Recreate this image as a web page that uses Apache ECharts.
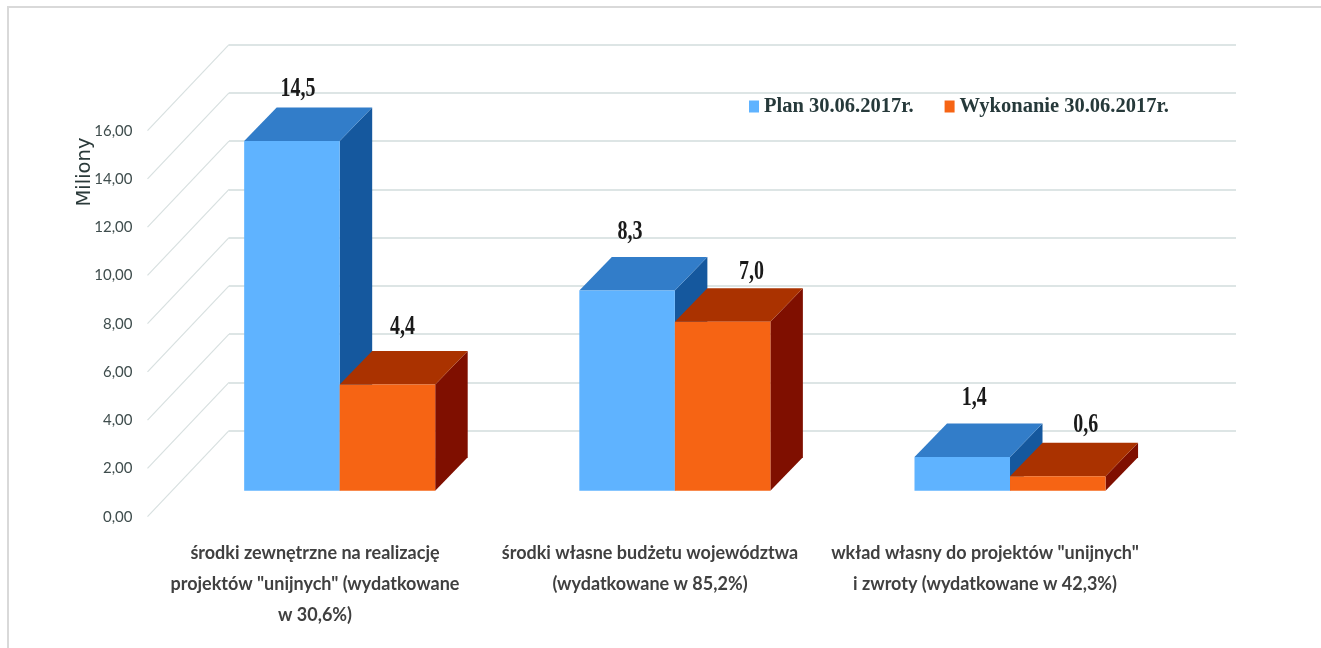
<!DOCTYPE html>
<html>
<head>
<meta charset="utf-8">
<style>
html,body{margin:0;padding:0;background:#fff;overflow:hidden}
#frame{position:absolute;left:7px;top:6px;width:1314px;height:642px;border-top:2px solid #d9d9d9;border-left:2px solid #d9d9d9;box-sizing:border-box}
#c{position:absolute;left:0;top:0;width:1321px;height:648px}
</style>
<script src="https://cdn.jsdelivr.net/npm/echarts@6/dist/echarts.min.js"></script>
</head>
<body>
<div id="frame"></div>
<div id="c"></div>
<script>
const categories = [
  'środki zewnętrzne na realizację\nprojektów "unijnych" (wydatkowane\nw 30,6%)',
  'środki własne budżetu województwa\n(wydatkowane w 85,2%)',
  'wkład własny do projektów "unijnych"\ni zwroty (wydatkowane w 42,3%)'
];
const planValues = [14.5, 8.3, 1.4];
const wykonanieValues = [4.4, 7.0, 0.6];
const planName = 'Plan 30.06.2017r.';
const wykonanieName = 'Wykonanie 30.06.2017r.';
const depthTicks = [0, 2, 4, 6, 8, 10, 12, 14, 16];

// layout and style
const barDepthX = 32.5, barDepthY = 33.5;
const wallDepth = [81.5, -86];
const planColors = { front: '#5FB3FF', top: '#327DC9', side: '#15589E' };
const wykonanieColors = { front: '#F66414', top: '#AA3200', side: '#7F0F00' };
const planLabelShift = [[6, -52], [3, -58], [12, -59]];
const wykonanieLabelShift = [[15, -58], [29, -50], [28, -51]];

function bar3d(colors, side, labelShift) {
  return function (params, api) {
    const cat = api.value(0), val = api.value(1);
    const w = api.size([1, 0])[0] * 0.285;
    const c = api.coord([cat, val]), b = api.coord([cat, 0]);
    const x0 = side < 0 ? c[0] - w : c[0], x1 = x0 + w;
    const t = c[1], y0 = b[1], dx = barDepthX, dy = barDepthY;
    const s = labelShift[cat];
    return {
      type: 'group',
      children: [
        { type: 'polygon', shape: { points: [[x1, y0], [x1 + dx, y0 - dy], [x1 + dx, t - dy], [x1, t]] }, style: { fill: colors.side } },
        { type: 'polygon', shape: { points: [[x0, t], [x0 + dx, t - dy], [x1 + dx, t - dy], [x1, t]] }, style: { fill: colors.top } },
        { type: 'rect', shape: { x: x0, y: t, width: w, height: y0 - t }, style: { fill: colors.front } },
        { type: 'text', x: (x0 + x1) / 2 + s[0], y: t + s[1], scaleX: 0.74,
          style: { text: val.toFixed(1).replace('.', ','), font: 'bold 27px "Liberation Serif"', fill: '#1a1a1a', textAlign: 'center', textVerticalAlign: 'middle' } }
      ]
    };
  };
}

const depthData = depthTicks.map(v => [v]);
const chart = echarts.init(document.getElementById('c'), null, { renderer: 'canvas' });
chart.setOption({
  animation: false,
  backgroundColor: 'transparent',
  textStyle: { fontFamily: 'Lato' },
  legend: {
    left: 744, top: 91, itemWidth: 10, itemHeight: 12, itemGap: 31, icon: 'rect',
    data: [planName, wykonanieName],
    textStyle: { fontFamily: '"Liberation Serif"', fontWeight: 'bold', fontSize: 20.5, color: '#26393a' }
  },
  grid: [
    { left: 229, top: 44.7, width: 1007, height: 386 },
    { left: 147.5, top: 130.7, width: 1005, height: 386 },
    { left: 172.1, top: 104.7, width: 1005.5, height: 386 }
  ],
  xAxis: [
    { gridIndex: 0, type: 'category', data: categories, show: false },
    { gridIndex: 1, type: 'category', data: categories,
      axisLine: { show: false }, axisTick: { show: false },
      axisLabel: { interval: 0, margin: 21, lineHeight: 31, fontSize: 18, fontWeight: 'bold', color: '#404040', fontFamily: 'Lato' } },
    { gridIndex: 2, type: 'category', data: categories, show: false }
  ],
  yAxis: [
    { gridIndex: 0, type: 'value', min: 0, max: 16, interval: 2,
      axisLabel: { show: false }, axisLine: { show: false }, axisTick: { show: false },
      splitLine: { lineStyle: { color: '#DDE5E5', width: 2 } } },
    { gridIndex: 1, type: 'value', min: 0, max: 16, interval: 2,
      axisLine: { show: false }, axisTick: { show: false }, splitLine: { show: false },
      axisLabel: { margin: 15, fontSize: 15, color: '#3f4d4d', fontFamily: 'Lato', padding: [4, 0, 0, 0], formatter: v => v.toFixed(2).replace('.', ',') } },
    { gridIndex: 2, type: 'value', min: 0, max: 16, interval: 2, show: false, splitLine: { show: false } }
  ],
  series: [
    { type: 'custom', name: 'depth', xAxisIndex: 1, yAxisIndex: 1, z: 1, silent: true, tooltip: { show: false },
      data: depthData, encode: { y: 0 },
      renderItem: function (params, api) {
        const p = api.coord([0, api.value(0)]);
        const x = 147.5;
        return { type: 'line', shape: { x1: x, y1: p[1], x2: x + wallDepth[0], y2: p[1] + wallDepth[1] },
          style: { stroke: '#D8E0E0', lineWidth: 1.2 } };
      } },
    { type: 'custom', name: planName, xAxisIndex: 2, yAxisIndex: 2, z: 3,
      itemStyle: { color: planColors.front },
      data: planValues.map((v, i) => [i, v]), encode: { x: 0, y: 1 },
      renderItem: bar3d(planColors, -1, planLabelShift) },
    { type: 'custom', name: wykonanieName, xAxisIndex: 2, yAxisIndex: 2, z: 4,
      itemStyle: { color: wykonanieColors.front },
      data: wykonanieValues.map((v, i) => [i, v]), encode: { x: 0, y: 1 },
      renderItem: bar3d(wykonanieColors, 1, wykonanieLabelShift) }
  ],
  graphic: [
    { type: 'text', x: 85, y: 172, rotation: Math.PI / 2,
      style: { text: 'Miliony', font: '19.5px "DejaVu Sans"', fill: '#2b3a3a', textAlign: 'center', textVerticalAlign: 'middle' } }
  ]
});
</script>
</body>
</html>
